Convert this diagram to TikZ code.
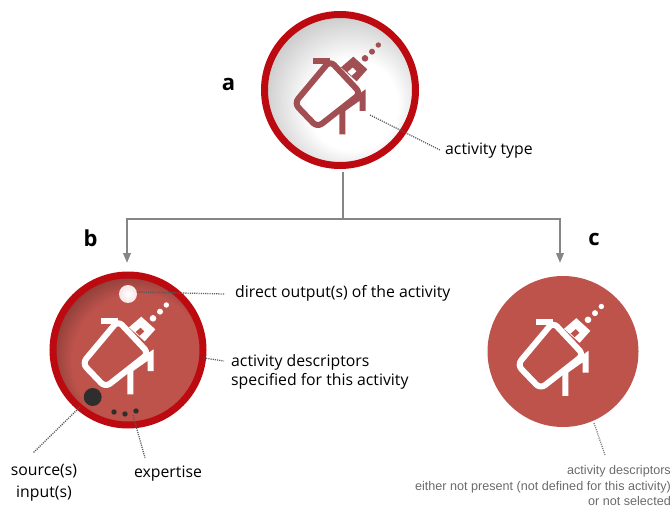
\documentclass[tikz,border=0pt]{standalone}
\usepackage{fontspec}
\setmainfont{Open Sans}
\newfontfamily\greyfont{Liberation Sans}
\usetikzlibrary{arrows.meta,calc}
\definecolor{ringred}{HTML}{BC0A10}
\definecolor{fillred}{HTML}{BE534C}
\definecolor{icona}{HTML}{A24F54}
\definecolor{conn}{HTML}{868686}
\pgfdeclareradialshading{greyball}{\pgfpoint{6bp}{-7bp}}{color(0bp)=(white); color(15bp)=(white); color(36bp)=(black!32); color(50bp)=(black!32)}
\pgfdeclareradialshading{redball}{\pgfpoint{6bp}{-6bp}}{color(0bp)=(fillred); color(22bp)=(fillred); color(27bp)=(fillred!80!black); color(33bp)=(fillred!50!black); color(50bp)=(fillred!50!black)}
\tikzset{
  ball/.style={circle,inner sep=0pt,minimum size=#1},
  link/.style={draw=conn,line width=2pt},
  arrowlink/.style={link,-{Triangle[length=10pt,width=7.5pt]}},
  dots/.style={draw=black!65,line width=1.3pt,dash pattern=on 1.1pt off 1.1pt},
  lbl/.style={inner sep=0pt,font=\fontsize{15.8}{19}\selectfont,text=black},
  tag/.style={inner sep=0pt,font=\fontsize{22}{24}\selectfont\bfseries,text=black},
  greylbl/.style={inner sep=0pt,align=right,anchor=east,font=\greyfont\fontsize{12.6}{15.2}\selectfont,text=black!58},
}
% icon drawn around its circle's centre; #1 position, #2 colour, #3 hole colour
\newcommand{\activityicon}[3]{%
  \begin{scope}[shift={#1},x=0.3333pt,y=-0.3333pt]
    \draw[#2,line width=6pt] (-80,-88) -- (-30,-88);
    \draw[#2,line width=6pt,rounded corners=6pt,line join=round]
      (-30,-88) -- (-137,40) -- (-68,112) -- (62,10) -- cycle;
    \draw[#2,line width=6pt,line join=miter] (7,133) -- (7,58) -- (68,15) -- (68,63);
    \fill[#2] (40,-100) -- (82,-62) -- (50,-26) -- (3,-68) -- cycle;
    \fill[#3] (23,-54) -- (35,-43) -- (49,-56) -- (38,-67) -- cycle;
    \fill[#2] (75,-95) circle (3.3pt) (96,-115) circle (3pt) (115,-135) circle (2.7pt);
  \end{scope}}
\begin{document}
\begin{tikzpicture}[x=1pt,y=-1pt]
\useasboundingbox (0,0) rectangle (672,508);
% circles
\node[ball=151pt,draw=ringred,line width=7pt,shading=greyball] (A) at (340,90) {};
\node[ball=150pt,draw=ringred,line width=7pt,shading=redball] (B) at (128,350) {};
\node[ball=151pt,fill=fillred] (C) at (563,351.5) {};
\activityicon{(A.center)}{icona}{white}
\activityicon{(B.center)}{white}{fillred}
\activityicon{(C.center)}{white}{fillred}
% tree
\coordinate (fork) at (343,218.5);
\coordinate (top) at (343,172);
\coordinate (lturn) at (127,218.5);
\coordinate (rturn) at (560,218.5);
\coordinate (lend) at (127,263);
\coordinate (rend) at (560,263);
\draw[link] (top) -- (fork);
\draw[arrowlink] (fork) -- (lturn) -- (lend);
\draw[arrowlink] (fork) -- (rturn) -- (rend);
% details in b
\shade[inner color=white,outer color=white!85!fillred] (128,294) circle (9pt);
\node[ball=18pt,fill=black!82] (src) at (92.7,397) {};
\node[ball=5.4pt,fill=black!82] (e1) at (114,412) {};
\node[ball=5.4pt,fill=black!82] (e2) at (125,414) {};
\node[ball=5.4pt,fill=black!82] (e3) at (136,411) {};
\coordinate (out) at (137,292);
% labels
\node[tag] (la) at (228.5,84) {a};
\node[tag] (lb) at (90.5,238) {b};
\node[tag] (lc) at (594,239) {c};
\node[lbl,anchor=west] (t1) at (445,151) {activity type};
\node[lbl,anchor=west] (t2) at (235,293) {direct output(s) of the activity};
\node[lbl,anchor=west,align=left] (t3) at (231,371.5) {activity descriptors\\specified for this activity};
\node[lbl,align=center,font=\fontsize{15.8}{22}\selectfont] (t4) at (44,483) {source(s)\\input(s)};
\node[lbl] (t5) at (168,474) {expertise};
\node[greylbl] (t6) at (671,485.5) {activity descriptors\\either not present (not defined for this activity)\\or not selected};
% dotted leaders
\coordinate (a1) at (370,115);
\coordinate (a2) at (440,150);
\draw[dots] (a1) -- (a2);
\coordinate (b2) at (225,294);
\draw[dots] (out) -- (b2);
\coordinate (b3a) at (204,358);
\coordinate (b3b) at (224,361);
\draw[dots] (b3a) -- (b3b);
\coordinate (b4a) at (80,407);
\coordinate (b4b) at (33,453);
\draw[dots] (b4a) -- (b4b);
\coordinate (b5a) at (133,415);
\coordinate (b5b) at (145,458);
\draw[dots] (b5a) -- (b5b);
\coordinate (c1) at (594,423);
\coordinate (c2) at (605,455);
\draw[dots,draw=black!50] (c1) -- (c2);
\end{tikzpicture}
\end{document}
